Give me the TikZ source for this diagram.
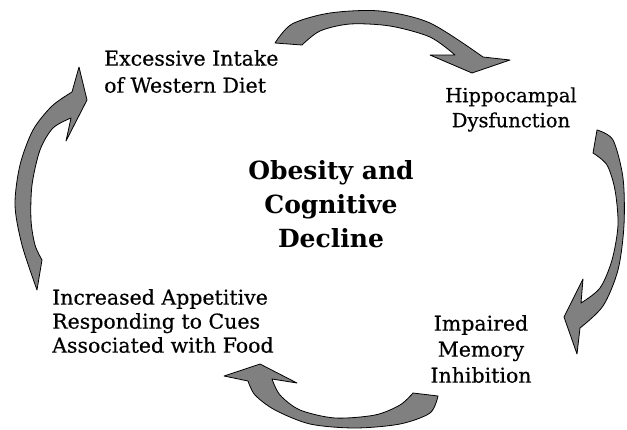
\documentclass[tikz,border=0pt]{standalone}
\usepackage{fontspec}
\setmainfont{DejaVu Serif}
\newfontfamily\lblfont{DejaVu Serif}[FakeBold=0.5]
\begin{document}
\begin{tikzpicture}[x=1pt,y=-1pt,
  blockarrow/.style={fill=gray,draw=black,line width=0.8pt,line join=round},
  label/.style={font=\lblfont\fontsize{20.5}{27}\selectfont,inner sep=0pt},
  title/.style={font=\bfseries\fontsize{25}{34}\selectfont,inner sep=0pt,align=center}]
\useasboundingbox (0,0) rectangle (627,429);
% top arrow
\filldraw[blockarrow] (275,43) -- plot[smooth] coordinates {(275,43) (292,24) (330,13) (380,11) (430,23) (483,57)}
  -- (510,60) -- (472,73) -- (430,55) -- (455,55)
  -- plot[smooth] coordinates {(455,55) (430,37) (390,26) (350,24) (320,31) (302,45)} -- cycle;
% right arrow
\filldraw[blockarrow] (597,130) -- plot[smooth] coordinates {(597,130) (613,140) (623,178) (624,225) (618,270) (603,306) (580,328)}
  -- (577,354) -- (564,317) -- (583,279) -- (581,303)
  -- plot[smooth] coordinates {(581,303) (600,288) (612,260) (618,225) (615,190) (607,165) (593,153)} -- cycle;
% bottom arrow
\filldraw[blockarrow] (438,396) -- plot[smooth] coordinates {(438,396) (430,413) (400,424) (355,428) (310,424) (275,410) (255,395) (248,381)}
  -- (224,376) -- (260,364) -- (297,383) -- (272,379)
  -- plot[smooth] coordinates {(272,379) (280,395) (300,410) (335,418) (375,415) (400,405) (413,393)} -- cycle;
% left arrow
\filldraw[blockarrow] (37,290) -- plot[smooth] coordinates {(37,290) (22,245) (15,205) (20,165) (33,130) (52,106) (72,92)}
  -- (79,67) -- (87,100) -- (66,141) -- (71,118)
  -- plot[smooth] coordinates {(71,118) (53,128) (40,150) (32,185) (31,220) (35,245) (42,260)} -- cycle;
% texts
\node[label,align=left,anchor=west] (diet) at (104,71.5) {Excessive Intake\\of Western Diet};
\node[label,align=center,font=\lblfont\fontsize{19.5}{25}\selectfont] (hippo) at (511,109.5) {Hippocampal\\Dysfunction};
\node[label,align=left,anchor=west,font=\lblfont\fontsize{20.5}{24}\selectfont] (cues) at (52,321) {Increased Appetitive\\Responding to Cues\\Associated with Food};
\node[label,align=center,font=\lblfont\fontsize{20.5}{26}\selectfont] (memory) at (481,349) {Impaired\\Memory\\Inhibition};
\node[title] (center) at (331,204) {Obesity and\\Cognitive\\Decline};
\end{tikzpicture}
\end{document}
